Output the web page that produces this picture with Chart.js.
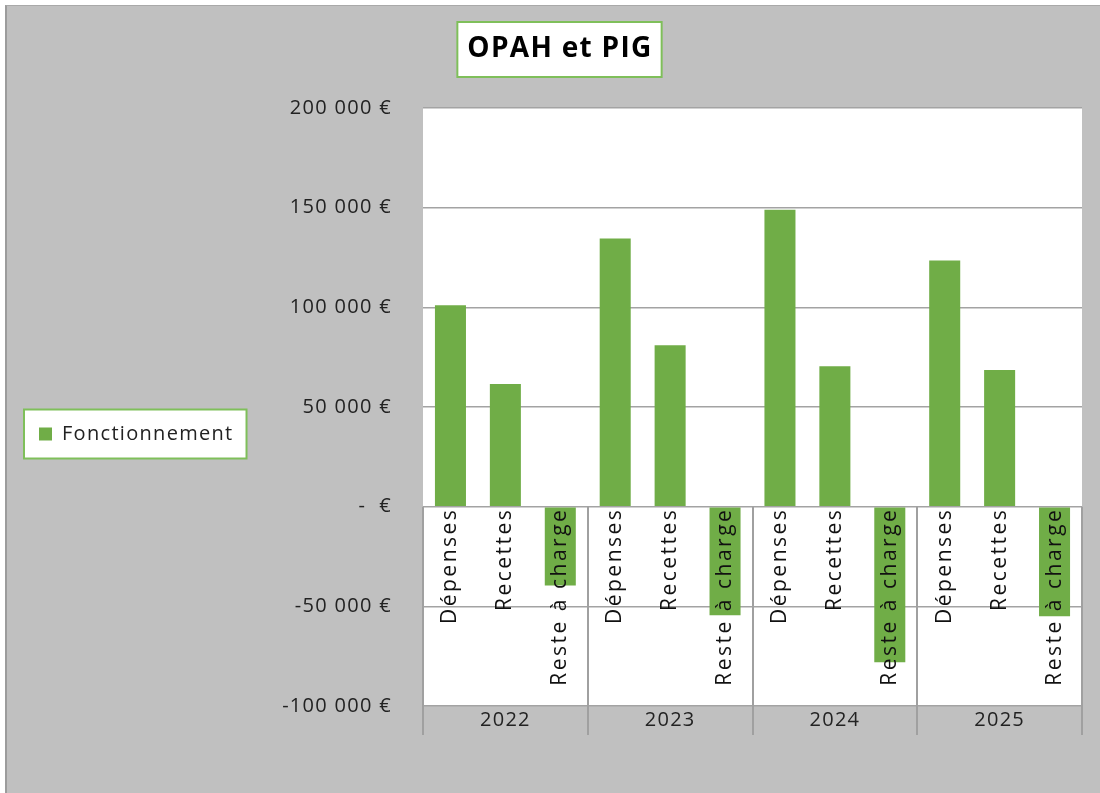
<!DOCTYPE html>
<html>
<head>
<meta charset="utf-8">
<script src="https://cdn.jsdelivr.net/npm/chart.js@4.4.4/dist/chart.umd.min.js"></script>
<style>
  body { margin: 0; background: #fff; }
  #frame {
    position: absolute; left: 5px; top: 5px;
    width: 1093px; height: 787px;
    border-left: 2px solid #9c9c9c; border-top: 1px solid #a9a9a9;
    background: #c0c0c0;
  }
  canvas { display: block; }
</style>
</head>
<body>
<div id="frame"><canvas id="chart" width="1093" height="787"></canvas></div>
<script>
// Chart data
const years = ['2022', '2023', '2024', '2025'];
const categories = ['Dépenses', 'Recettes', 'Reste à charge'];
const depenses = [101000, 134500, 149000, 123500];
const recettes = [61500, 81000, 70500, 68500];
const resteACharge = [-39500, -54500, -78000, -55000];
const yTicks = [-100000, -50000, 0, 50000, 100000, 150000, 200000];

const GREEN = '#70ad47';
const TITLE_SIZE = 28;
const TITLE_PAD = { top: 26.7, bottom: 41.7 };
const PAD_LEFT = 31;
const PLOT_LEFT = 416;   // left edge of the plot area in canvas pixels

// one bar per (year, category), in year order
const labels = years.flatMap(() => categories);
const values = years.flatMap((_, i) => [depenses[i], recettes[i], resteACharge[i]]);

/**
 * Formats a value like Excel's accounting format: "150 000 €", "-  €".
 */
function euro(v) {
    if (v === 0) return '-  €';
    const s = String(Math.abs(v)).replace(/\B(?=(\d{3})+(?!\d))/g, ' ');
    return (v < 0 ? '-' : '') + s + ' €';
}

// Draws the Excel-style extras: white plot area, boxed title and legend, year separators
const excelLook = {
    id: 'excelLook',
    beforeUpdate(chart) {
        chart.ctx.letterSpacing = '1.3px';
    },
    beforeDraw(chart) {
        const { ctx, chartArea: a } = chart;
        ctx.letterSpacing = '1.3px';
        ctx.save();
        ctx.fillStyle = '#fff';
        ctx.fillRect(a.left, a.top, a.right - a.left, a.bottom - a.top);

        // title box
        const t = chart.titleBlock;
        ctx.font = 'bold ' + TITLE_SIZE + 'px "Open Sans"';
        const tw = ctx.measureText(t.options.text).width;
        const cx = (t.left + t.right) / 2;
        const cy = t.top + TITLE_PAD.top + TITLE_SIZE * 1.2 / 2;
        ctx.fillRect(cx - tw / 2 - 10, cy - 27.5, tw + 19, 55);
        ctx.strokeStyle = '#7fbf5a';
        ctx.lineWidth = 2;
        ctx.strokeRect(cx - tw / 2 - 10, cy - 27.5, tw + 19, 55);

        // legend box
        const hb = chart.legend.legendHitBoxes[0];
        if (hb) {
            const ly = hb.top + hb.height / 2;
            ctx.fillRect(hb.left - 15, ly - 24.5, hb.width + 28, 49);
            ctx.strokeRect(hb.left - 15, ly - 24.5, hb.width + 28, 49);
        }
        ctx.restore();
    },
    afterDatasetsDraw(chart) {
        const { ctx, chartArea: a, scales } = chart;
        const y0 = scales.y.getPixelForValue(0);
        ctx.save();
        ctx.strokeStyle = '#a0a0a0';
        ctx.lineWidth = 2;
        for (let i = 0; i <= years.length; i++) {
            const px = Math.round(scales.x2.getPixelForValue(i - 0.5));
            ctx.beginPath();
            ctx.moveTo(px, y0);
            ctx.lineTo(px, a.bottom + 29);
            ctx.stroke();
        }
        ctx.restore();
        // category labels are drawn after this hook, a bit wider spaced
        ctx.letterSpacing = '2.5px';
    },
    afterDraw(chart) {
        chart.ctx.letterSpacing = '1.3px';
    }
};

Chart.defaults.font.family = '"Open Sans", sans-serif';
Chart.defaults.font.size = 20;
Chart.defaults.color = '#222';

new Chart(document.getElementById('chart'), {
    type: 'bar',
    data: {
        labels,
        datasets: [{
            label: 'Fonctionnement',
            data: values,
            backgroundColor: GREEN,
            borderWidth: 0,
            categoryPercentage: 1,
            barPercentage: 0.565
        }]
    },
    options: {
        responsive: false,
        animation: false,
        devicePixelRatio: 1,
        layout: { padding: { left: PAD_LEFT, right: 18, top: 0, bottom: 0 } },
        plugins: {
            title: {
                display: true,
                text: 'OPAH et PIG',
                color: '#000',
                font: { size: TITLE_SIZE, weight: 'bold' },
                padding: TITLE_PAD
            },
            legend: {
                position: 'left',
                align: 'center',
                title: { display: true, text: '', font: { size: 10 }, padding: { top: 57, bottom: 0 } },
                labels: { boxWidth: 13, boxHeight: 13, padding: 1, color: '#222' }
            },
            tooltip: { enabled: false }
        },
        scales: {
            x: {
                position: { y: 0 },
                offset: true,
                grid: { display: false, drawTicks: false },
                border: { display: false },
                ticks: {
                    autoSkip: false,
                    minRotation: 90,
                    maxRotation: 90,
                    padding: 1,
                    color: '#111',
                    font: { size: 21 },
                    z: 1
                },
                afterFit: s => { s.height = 0; }
            },
            x2: {
                type: 'category',
                labels: years,
                position: 'bottom',
                offset: true,
                grid: { display: false, drawTicks: false },
                border: { display: false },
                ticks: { padding: 2, color: '#222' },
                afterFit: s => { s.height = 87; }
            },
            y: {
                min: yTicks[0],
                max: yTicks[yTicks.length - 1],
                afterBuildTicks: s => { s.ticks = yTicks.map(v => ({ value: v })); },
                grid: { color: '#a3a3a3', lineWidth: 1.5, drawTicks: false },
                border: { display: false },
                ticks: { padding: 31, color: '#222', callback: v => euro(v) },
                afterFit: s => { s.width = PLOT_LEFT - PAD_LEFT - s.chart.legend.width; }
            }
        }
    },
    plugins: [excelLook]
});
</script>
</body>
</html>
